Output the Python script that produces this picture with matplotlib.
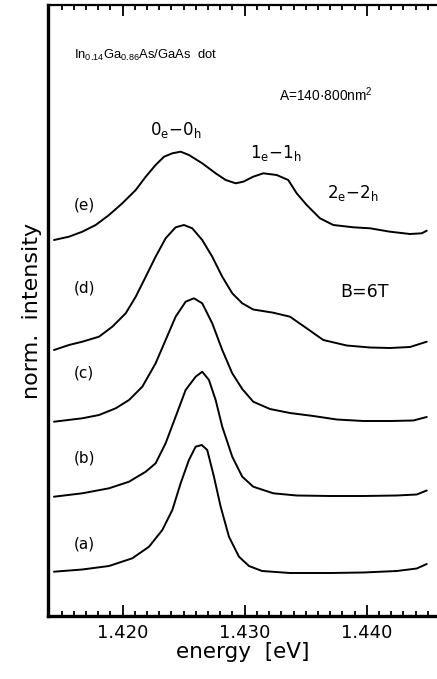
import matplotlib
matplotlib.use("Agg")
import matplotlib.pyplot as plt
from matplotlib.ticker import MultipleLocator

plt.rcParams['font.family'] = ['DejaVu Sans']
plt.rcParams['mathtext.default'] = 'regular'

# ---- data (energy in eV, intensity in arbitrary units, relative to each trace's baseline) ----
labels = ["(a)", "(b)", "(c)", "(d)", "(e)"]
offsets = [44, 120, 194, 266, 377]

energy_a = [1.41437, 1.41669, 1.41888, 1.42079, 1.42216, 1.42325, 1.42407, 1.42475,
            1.42543, 1.42598, 1.42648, 1.42693, 1.42748, 1.42803, 1.42871, 1.42953,
            1.43035, 1.43142, 1.43371, 1.43699, 1.43972, 1.44246, 1.44410, 1.44492]
inten_a = [0.3, 2.5, 6, 13.7, 25.3, 42, 62, 88.7, 112, 125.3, 127, 122, 95.3, 65.3,
           35.3, 15.3, 6, 1, -1, -1, -0.5, 1, 3.5, 8]

energy_b = [1.41437, 1.41669, 1.41888, 1.42052, 1.42189, 1.42270, 1.42352, 1.42434,
            1.42516, 1.42598, 1.42652, 1.42707, 1.42762, 1.42816, 1.42898, 1.42980,
            1.43070, 1.43234, 1.43426, 1.43699, 1.43972, 1.44246, 1.44410, 1.44492]
inten_b = [-0.7, 2.7, 7.7, 14.3, 24.3, 32.7, 52.7, 79.3, 106, 119.3, 124.3, 116, 96,
           69.3, 39.3, 19.3, 9.3, 2.7, 0.5, 0, 0, 0.5, 1.5, 5.5]

energy_c = [1.41437, 1.41669, 1.41806, 1.41943, 1.42052, 1.42161, 1.42270, 1.42352,
            1.42434, 1.42516, 1.42584, 1.42652, 1.42734, 1.42816, 1.42898, 1.42980,
            1.43070, 1.43207, 1.43371, 1.43562, 1.43754, 1.43972, 1.44191, 1.44382,
            1.44492]
inten_c = [0.3, 3.7, 7, 13.7, 22, 35.3, 58.7, 82, 105.3, 120.3, 123.7, 118.7, 98.7,
           72, 48.7, 33, 20.3, 13, 9, 6, 2.5, 1, 1, 1.5, 5]

energy_d = [1.41437, 1.41560, 1.41669, 1.41806, 1.41915, 1.42025, 1.42107, 1.42189,
            1.42270, 1.42352, 1.42434, 1.42502, 1.42570, 1.42652, 1.42734, 1.42816,
            1.42898, 1.42980, 1.43070, 1.43234, 1.43371, 1.43508, 1.43644, 1.43836,
            1.44027, 1.44191, 1.44355, 1.44492]
inten_d = [0, 5, 8.3, 13.3, 23.3, 36.7, 53.3, 73.3, 93.3, 111.7, 122.7, 125, 121.7,
           110, 93.3, 73.3, 56.7, 46.7, 40.5, 37.3, 33.3, 21.7, 10, 4.5, 2.5, 2, 3,
           8.3]

energy_e = [1.41437, 1.41560, 1.41669, 1.41779, 1.41888, 1.41997, 1.42107, 1.42189,
            1.42270, 1.42339, 1.42407, 1.42475, 1.42543, 1.42652, 1.42762, 1.42844,
            1.42926, 1.42989, 1.43070, 1.43152, 1.43262, 1.43357, 1.43426, 1.43508,
            1.43617, 1.43726, 1.43890, 1.44027, 1.44191, 1.44355, 1.44451, 1.44492]
inten_e = [-1, 2.3, 7.3, 14, 24, 35.7, 49, 62.3, 74, 82.3, 85.7, 87.3, 84, 75.7,
           65.7, 59, 55.7, 57.3, 62.3, 65.7, 64, 59, 45.7, 34, 20.7, 14, 11.7, 10.7,
           7.3, 5, 5.7, 8.3]

energies = [energy_a, energy_b, energy_c, energy_d, energy_e]
intensities = [inten_a, inten_b, inten_c, inten_d, inten_e]
label_y = [72, 158, 243, 328, 411]

x_ticks = [1.420, 1.430, 1.440]
x_tick_labels = ["1.420", "1.430", "1.440"]

# ---- figure ----
W, H = 437, 679
fig = plt.figure(figsize=(W / 100, H / 100), dpi=100)
ax = fig.add_axes([48 / W, 1 - 616 / H, 1 - 48 / W, (616 - 5) / H])

for e, i, off in zip(energies, intensities, offsets):
    ax.plot(e, [v + off for v in i], color="black", lw=1.4,
            solid_joinstyle='round', solid_capstyle='round')

ax.set_xlim(1.41388, 1.44576)
ax.set_ylim(0, 611)

ax.spines['right'].set_visible(False)
ax.spines['left'].set_linewidth(2.4)
ax.spines['bottom'].set_linewidth(2.4)
ax.spines['top'].set_linewidth(1.6)

ax.set_xticks(x_ticks)
ax.set_xticklabels(x_tick_labels)
ax.xaxis.set_minor_locator(MultipleLocator(0.001))
ax.tick_params(axis='x', which='major', direction='in', top=True, bottom=True,
               length=8, width=1.3, labelsize=13, pad=6)
ax.tick_params(axis='x', which='minor', direction='in', top=True, bottom=True,
               length=3.5, width=1.3)
ax.set_yticks([])

ax.set_xlabel("energy  [eV]", fontsize=15.5, labelpad=0)
ax.set_ylabel("norm.  intensity", fontsize=16, labelpad=4)

# labels for traces
for lab, ly in zip(labels, label_y):
    ax.text(1.4160, ly, lab, fontsize=11, ha='left', va='center')

narrow = ['Liberation Sans', 'DejaVu Sans']
ax.text(1.4160, 561, "In$_{0.14}$Ga$_{0.86}$As/GaAs  dot", fontsize=9.4,
        ha='left', va='center', family=narrow)
ax.text(1.43285, 521, "A=140·800nm$^{2}$", fontsize=9.9, ha='left', va='center',
        family=narrow)
ax.text(1.42225, 486, "0$_{e}$−0$_{h}$", fontsize=12, ha='left', va='center')
ax.text(1.43045, 463, "1$_{e}$−1$_{h}$", fontsize=12, ha='left', va='center')
ax.text(1.43675, 423, "2$_{e}$−2$_{h}$", fontsize=12, ha='left', va='center')
ax.text(1.43780, 324, "B=6T", fontsize=12.5, ha='left', va='center')

fig.savefig("out.png", dpi=100)
